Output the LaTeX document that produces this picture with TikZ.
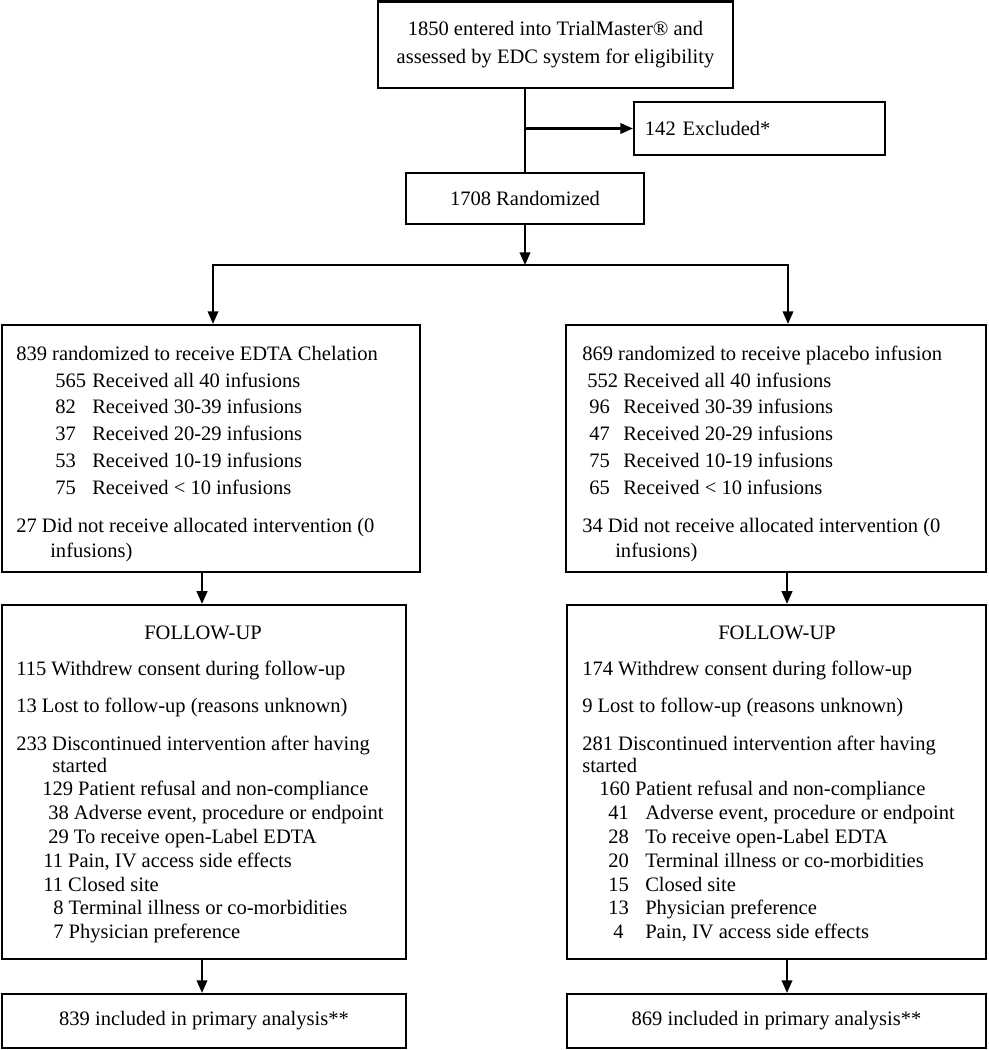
\documentclass[tikz,border=0pt]{standalone}
\usepackage{fontspec}
\setmainfont{Liberation Serif}
\usetikzlibrary{arrows.meta}

\newcommand\nb[2][0.925cm]{\makebox[#1][l]{#2}}

\tikzset{
  every node/.style={font=\fontsize{14.6pt}{19.9pt}\selectfont},
  box/.style={draw, line width=1.5pt, inner sep=0pt},
  line/.style={line width=1.5pt},
  arr/.style={line width=1.5pt, -{Triangle[length=9pt,width=7.5pt]}},
  txt/.style={anchor=base west, inner sep=0pt},
}

\begin{document}
\begin{tikzpicture}[x=0.025cm, y=-0.025cm]
\useasboundingbox (0,0) rectangle (988,1050);

% boxes
\node[box, minimum width=8.875cm, minimum height=2.1625cm, align=center] (entry) at (555.5,44.75)
  {1850 entered into TrialMaster® and\\assessed by EDC system for eligibility};
\node[box, minimum width=6.275cm, minimum height=1.325cm, inner xsep=0.275cm,
  text width=5.725cm, align=left] (excl) at (759.5,128.5) {142 Excluded*};
\node[box, minimum width=5.95cm, minimum height=1.275cm] (rand) at (525,198.5) {1708 Randomized};
\node[box, minimum width=10.45cm, minimum height=6.175cm] (chel) at (211,448.5) {};
\node[box, minimum width=10.5cm, minimum height=6.175cm] (plac) at (776,448.5) {};
\node[box, minimum width=10.1cm, minimum height=8.85cm] (fuL) at (204,782) {};
\node[box, minimum width=10.475cm, minimum height=8.85cm] (fuR) at (776.5,782) {};
\node[box, minimum width=10.1cm, minimum height=1.35cm] (anL) at (204,1021) {839 included in primary analysis**};
\node[box, minimum width=10.475cm, minimum height=1.35cm] (anR) at (776.5,1021) {869 included in primary analysis**};

\coordinate (split) at (525,265);
\coordinate (brL) at (213,0);
\coordinate (brR) at (788,0);
\coordinate (colL) at (202,0);
\coordinate (colR) at (787,0);

% EDTA arm
\node[txt] (chel-0) at (16,360) {839 randomized to receive EDTA Chelation};
\node[txt] (chel-1) at (55,387) {\nb{565}Received all 40 infusions};
\node[txt] (chel-2) at (55,413) {\nb{82}Received 30-39 infusions};
\node[txt] (chel-3) at (55,440) {\nb{37}Received 20-29 infusions};
\node[txt] (chel-4) at (55,467) {\nb{53}Received 10-19 infusions};
\node[txt] (chel-5) at (55,494) {\nb{75}Received < 10 infusions};
\node[txt] (chel-6) at (16,532) {27 Did not receive allocated intervention (0};
\node[txt] (chel-7) at (50,557) {infusions)};

% placebo arm
\node[txt] (plac-0) at (582,360) {869 randomized to receive placebo infusion};
\node[txt] (plac-1) at (587,387) {\nb[0.9cm]{552}Received all 40 infusions};
\node[txt] (plac-2) at (589,413) {\nb[0.85cm]{96}Received 30-39 infusions};
\node[txt] (plac-3) at (589,440) {\nb[0.85cm]{47}Received 20-29 infusions};
\node[txt] (plac-4) at (589,467) {\nb[0.85cm]{75}Received 10-19 infusions};
\node[txt] (plac-5) at (589,494) {\nb[0.85cm]{65}Received < 10 infusions};
\node[txt] (plac-6) at (582,532) {34 Did not receive allocated intervention (0};
\node[txt] (plac-7) at (615,557) {infusions)};

% follow-up, EDTA
\node[anchor=base, inner sep=0pt] (fuL-0) at (203,639) {FOLLOW-UP};
\node[txt] (fuL-1) at (16,675) {115 Withdrew consent during follow-up};
\node[txt] (fuL-2) at (16,712) {13 Lost to follow-up (reasons unknown)};
\node[txt] (fuL-3) at (16,750) {233 Discontinued intervention after having};
\node[txt] (fuL-4) at (52,772) {started};
\node[txt] (fuL-5) at (42,795) {129 Patient refusal and non-compliance};
\node[txt] (fuL-6) at (48,819) {38 Adverse event, procedure or endpoint};
\node[txt] (fuL-7) at (48,843) {29 To receive open-Label EDTA};
\node[txt] (fuL-8) at (43,867) {11 Pain, IV access side effects};
\node[txt] (fuL-9) at (43,891) {11 Closed site};
\node[txt] (fuL-10) at (53,914) {8 Terminal illness or co-morbidities};
\node[txt] (fuL-11) at (53,938) {7 Physician preference};

% follow-up, placebo
\node[anchor=base, inner sep=0pt] (fuR-0) at (777,639) {FOLLOW-UP};
\node[txt] (fuR-1) at (582,675) {174 Withdrew consent during follow-up};
\node[txt] (fuR-2) at (582,712) {9 Lost to follow-up (reasons unknown)};
\node[txt] (fuR-3) at (582,750) {281 Discontinued intervention after having};
\node[txt] (fuR-4) at (582,772) {started};
\node[txt] (fuR-5) at (599,795) {160 Patient refusal and non-compliance};
\node[txt] (fuR-6) at (608,819) {\nb{41}Adverse event, procedure or endpoint};
\node[txt] (fuR-7) at (608,843) {\nb{28}To receive open-Label EDTA};
\node[txt] (fuR-8) at (608,867) {\nb{20}Terminal illness or co-morbidities};
\node[txt] (fuR-9) at (608,891) {\nb{15}Closed site};
\node[txt] (fuR-10) at (608,914) {\nb{13}Physician preference};
\node[txt] (fuR-11) at (613,938) {\nb[0.8cm]{4}Pain, IV access side effects};

% connectors
\draw[line] (entry.south -| rand.north) -- (rand.north);
\draw[arr] (rand.north |- excl.west) -- (excl.west);
\draw[arr] (rand.south) -- (split);
\draw[arr] (split) -| (chel.north -| brL);
\draw[arr] (split) -| (plac.north -| brR);
\draw[arr] (chel.south -| colL) -- (fuL.north -| colL);
\draw[arr] (plac.south -| colR) -- (fuR.north -| colR);
\draw[arr] (fuL.south -| colL) -- (anL.north -| colL);
\draw[arr] (fuR.south -| colR) -- (anR.north -| colR);

\end{tikzpicture}
\end{document}
